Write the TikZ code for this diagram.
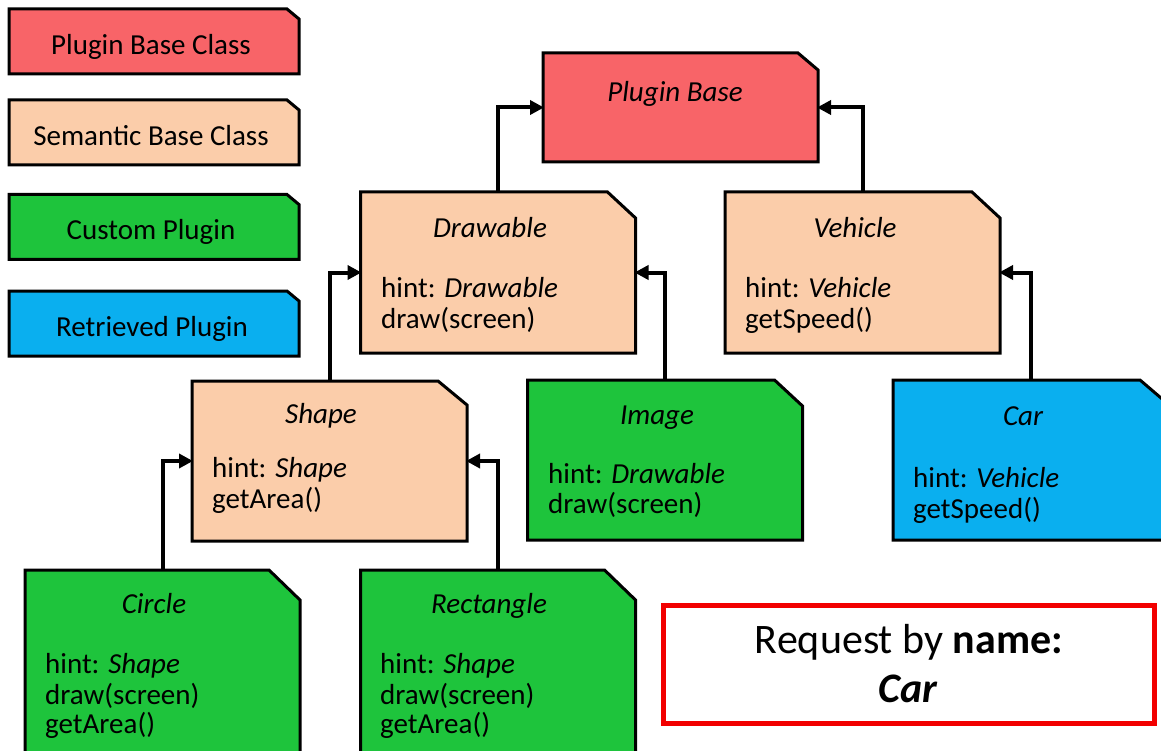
\documentclass[tikz,border=0pt]{standalone}
\usepackage{fontspec}
\setmainfont{Carlito}
\usetikzlibrary{arrows.meta,calc}
\definecolor{pbred}{HTML}{F86468}
\definecolor{peach}{HTML}{FBCDAA}
\definecolor{cgreen}{HTML}{1EC43C}
\definecolor{rblue}{HTML}{0AAFEF}
\definecolor{reqred}{HTML}{F20000}
\tikzset{
  box/.style={rectangle, draw=none, inner sep=0pt, outer sep=0pt,
    minimum width=275pt, minimum height=161pt},
  legbox/.style={box, minimum width=290pt, minimum height=65pt},
  outline/.style={draw=black, line width=3pt},
  ttl/.style={font=\fontsize{29}{30}\selectfont\itshape, anchor=base, inner sep=0pt},
  txt/.style={font=\fontsize{29}{30}\selectfont, anchor=base west, inner sep=0pt},
  leg/.style={font=\fontsize{29}{30}\selectfont, anchor=base, inner sep=0pt},
  req/.style={font=\fontsize{42}{44}\selectfont, anchor=base, inner sep=0pt},
  arr/.style={line width=4pt, -{Triangle[length=14pt,width=14pt]}, shorten >=-1pt},
}
\begin{document}
\begin{tikzpicture}[x=1pt,y=-1pt]
\fill[white] (0,0) rectangle (1161,751);
\useasboundingbox (0,0) rectangle (1161,751);
\clip (0,0) rectangle (1161,751);

% box anchors
\node[legbox] (l1) at (154,41.5) {};
\node[legbox] (l2) at (154,132.5) {};
\node[legbox] (l3) at (154,227) {};
\node[legbox] (l4) at (154,323.5) {};
\node[box, minimum height=109pt] (pb) at (680.5,107.5) {};
\node[box] (drawable) at (498,272.5) {};
\node[box] (vehicle) at (862.5,272.5) {};
\node[box, minimum height=160pt] (shape) at (329.5,461) {};
\node[box, minimum height=160pt] (image) at (665,460) {};
\node[box, minimum height=160pt] (car) at (1030.5,460) {};
\node[box, minimum height=190pt] (circle) at (162.5,665) {};
\node[box, minimum height=190pt] (rectangle) at (498,665) {};

% chamfered outlines
\foreach \n/\c/\dx/\dy in {l1/pbred/12/10, l2/peach/12/10, l3/cgreen/12/10, l4/rblue/12/10,
  pb/pbred/20/17, drawable/peach/28/26, vehicle/peach/28/26, shape/peach/29/24,
  image/cgreen/28/26, car/rblue/28/24, circle/cgreen/31/30, rectangle/cgreen/31/30}
  \filldraw[outline, fill=\c] (\n.south west) -- (\n.north west)
    -- ($(\n.north east)+(-\dx,0)$) -- ($(\n.north east)+(0,\dy)$)
    -- (\n.south east) -- cycle;

% legend texts
\node[leg] (l1t) at (151,55) {Plugin Base Class};
\node[leg] (l2t) at (151,146) {Semantic Base Class};
\node[leg] (l3t) at (151,240) {Custom Plugin};
\node[leg] (l4t) at (152,336) {Retrieved Plugin};

% plugin base
\node[ttl] (pbt) at (675,102) {Plugin Base};

% drawable
\node[ttl] (drawablet) at (490,238) {Drawable};
\node[txt] (drawable1) at (381,298) {hint: \textit{Drawable}};
\node[txt] (drawable2) at (381,328) {draw(screen)};

% vehicle
\node[ttl] (vehiclet) at (855,238) {Vehicle};
\node[txt] (vehicle1) at (745,298) {hint: \textit{Vehicle}};
\node[txt] (vehicle2) at (745,328) {getSpeed()};

% shape
\node[ttl] (shapet) at (321,423) {Shape};
\node[txt] (shape1) at (212,477) {hint: \textit{Shape}};
\node[txt] (shape2) at (212,508) {getArea()};

% image
\node[ttl] (imaget) at (657,424) {Image};
\node[txt] (image1) at (548,483) {hint: \textit{Drawable}};
\node[txt] (image2) at (548,513) {draw(screen)};

% car
\node[ttl] (cart) at (1023,425) {Car};
\node[txt] (car1) at (913,487) {hint: \textit{Vehicle}};
\node[txt] (car2) at (913,518) {getSpeed()};

% circle
\node[ttl] (circlet) at (154,613) {Circle};
\node[txt] (circle1) at (45,673) {hint: \textit{Shape}};
\node[txt] (circle2) at (45,704) {draw(screen)};
\node[txt] (circle3) at (45,733) {getArea()};

% rectangle
\node[ttl] (rectanglet) at (489,613) {Rectangle};
\node[txt] (rectangle1) at (380,673) {hint: \textit{Shape}};
\node[txt] (rectangle2) at (380,704) {draw(screen)};
\node[txt] (rectangle3) at (380,733) {getArea()};

% request
\node[draw=reqred, line width=5pt, minimum width=491pt, minimum height=118pt, inner sep=0pt, outer sep=0pt] (request) at (909,664) {};
\node[req] (req1) at (909,653) {Request by \textbf{name:}};
\node[req] (req2) at (908,702) {\textbf{\textit{Car}}};

% connectors
\draw[arr] (drawable.north) |- (pb.west);
\draw[arr] (vehicle.north) |- (pb.east);
\draw[arr] (shape.north) |- (drawable.west);
\draw[arr] (image.north) |- (drawable.east);
\draw[arr] (car.north) |- (vehicle.east);
\draw[arr] (circle.north) |- (shape.west);
\draw[arr] (rectangle.north) |- (shape.east);
\end{tikzpicture}
\end{document}
